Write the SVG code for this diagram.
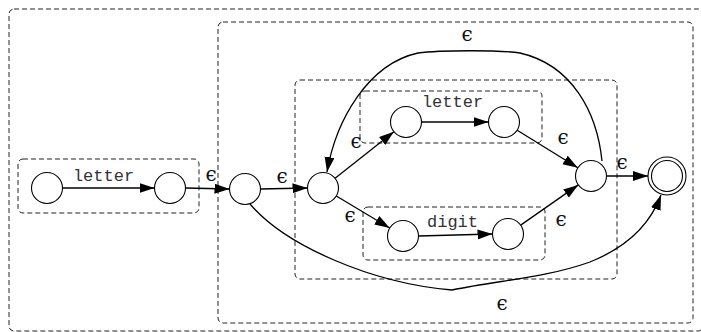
<svg xmlns="http://www.w3.org/2000/svg" width="701" height="332" viewBox="0 0 701 332">
  <style>
    .box { fill: none; stroke: #222; stroke-width: 1; stroke-dasharray: 5,3; }
    .state { fill: #fff; stroke: #000; stroke-width: 1.1; }
    .edge { fill: none; stroke: #000; stroke-width: 1.3; marker-end: url(#arrow); }
    .sym { font-family: "Liberation Mono", "Courier New", monospace; font-size: 17px; fill: #333; text-anchor: middle; }
    .eps { font-family: "DejaVu Serif", "Liberation Serif", serif; font-size: 20px; fill: #111; text-anchor: middle; }
  </style>
  <defs>
    <marker id="arrow" markerUnits="userSpaceOnUse" markerWidth="16" markerHeight="11" refX="15" refY="5" orient="auto">
      <path d="M0,0 L15,5 L0,10 z" fill="#000"/>
    </marker>
  </defs>

  <rect width="701" height="332" fill="#fff"/>

  <!-- nested sub-automaton frames -->
  <g id="frames">
    <rect class="box" x="9" y="9" width="694" height="322" rx="5" stroke="#555"/>
    <rect class="box" x="218" y="22" width="475" height="301" rx="5"/>
    <rect class="box" x="295" y="80" width="322" height="199" rx="5"/>
    <rect class="box" x="360" y="91" width="182" height="52" rx="5"/>
    <rect class="box" x="363" y="207" width="182" height="53" rx="5"/>
    <rect class="box" x="18" y="159" width="181" height="54" rx="5"/>
  </g>

  <!-- transitions -->
  <g id="connectors">
    <line class="edge" x1="62.5" y1="188" x2="154.5" y2="188"/>
    <line class="edge" x1="185.5" y1="188" x2="229.5" y2="189"/>
    <line class="edge" x1="260.5" y1="189" x2="307.5" y2="188"/>
    <line class="edge" x1="335.1" y1="178.3" x2="393.9" y2="131.7"/>
    <line class="edge" x1="421.5" y1="122" x2="488.5" y2="122"/>
    <line class="edge" x1="517.2" y1="130.2" x2="577.8" y2="167.8"/>
    <line class="edge" x1="336.3" y1="196" x2="389.7" y2="228"/>
    <line class="edge" x1="418.5" y1="236" x2="492.5" y2="234"/>
    <line class="edge" x1="520.7" y1="225.1" x2="578.3" y2="184.9"/>
    <line class="edge" x1="606.5" y1="176" x2="648" y2="176"/>
    <path class="edge" d="M602,161 C597,112 572,65 520,53 C500,50 440,50 418,53 C368,64 336,120 327,172"/>
    <path class="edge" d="M250,204 C285,245 370,283 452,290 C500,280 545,278 590,262 C625,248 650,225 661,195"/>

    <text class="sym" x="103.5" y="181">letter</text>
    <text class="sym" x="452.5" y="107">letter</text>
    <text class="sym" x="452.5" y="227">digit</text>

    <text class="eps" x="211" y="181">ϵ</text>
    <text class="eps" x="282" y="183">ϵ</text>
    <text class="eps" x="356" y="148">ϵ</text>
    <text class="eps" x="350" y="222">ϵ</text>
    <text class="eps" x="563" y="144">ϵ</text>
    <text class="eps" x="561" y="226">ϵ</text>
    <text class="eps" x="622" y="169">ϵ</text>
    <text class="eps" x="467" y="41">ϵ</text>
    <text class="eps" x="502" y="310">ϵ</text>
  </g>

  <!-- states -->
  <g id="s0"><circle class="state" cx="47" cy="188" r="15.5"/></g>
  <g id="s1"><circle class="state" cx="170" cy="188" r="15.5"/></g>
  <g id="s2"><circle class="state" cx="245" cy="189" r="15.5"/></g>
  <g id="s3"><circle class="state" cx="323" cy="188" r="15.5"/></g>
  <g id="s4"><circle class="state" cx="406" cy="122" r="15.5"/></g>
  <g id="s5"><circle class="state" cx="504" cy="122" r="15.5"/></g>
  <g id="s6"><circle class="state" cx="403" cy="236" r="15.5"/></g>
  <g id="s7"><circle class="state" cx="508" cy="234" r="15.5"/></g>
  <g id="s8"><circle class="state" cx="591" cy="176" r="15.5"/></g>
  <g id="accept">
    <circle class="state" cx="667" cy="176" r="19"/>
    <circle class="state" cx="667" cy="176" r="15.5"/>
  </g>
</svg>
